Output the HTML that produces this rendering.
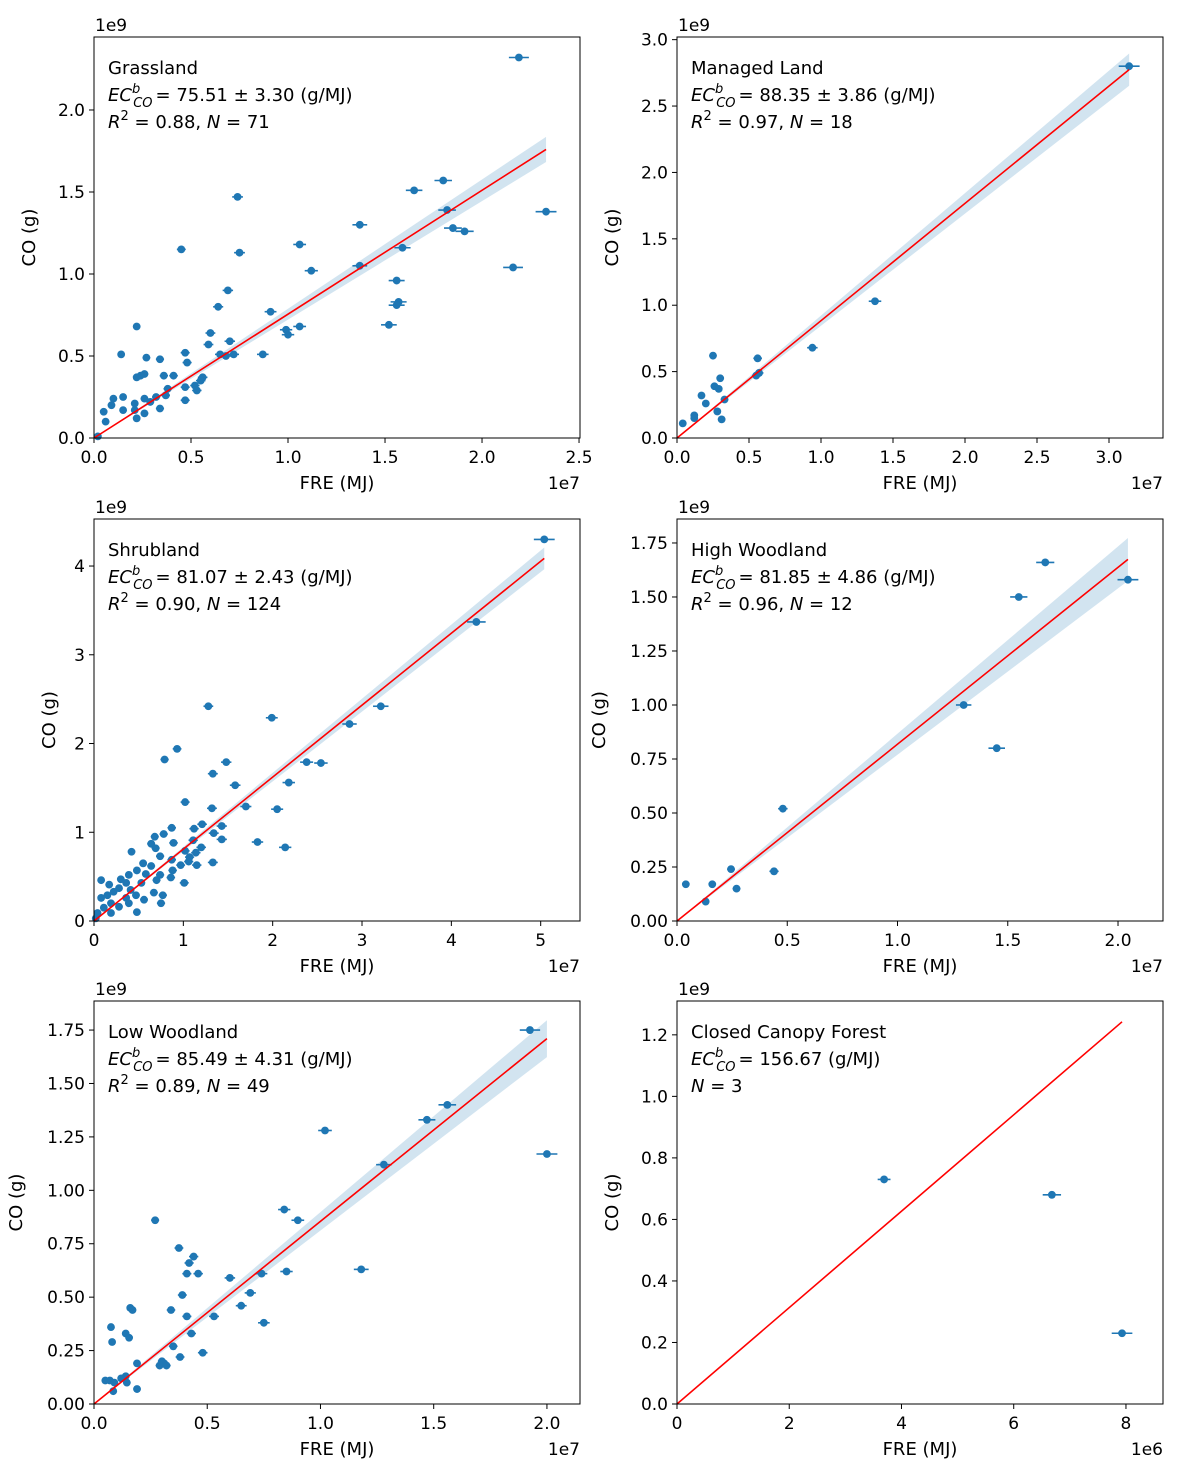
<!DOCTYPE html>
<html><head><meta charset="utf-8">
<style>
body{margin:0;background:#fff;}
svg{display:block;font-family:"DejaVu Sans","Liberation Sans",sans-serif;}
</style></head>
<body>
<svg id="fig" width="1186" height="1473" viewBox="0 0 1186 1473" xmlns="http://www.w3.org/2000/svg"></svg>
<script>
// ---- data (x in units of x-scale, y in 1e9 g) ----
const grassX=[2.19,2.33,2.16,1.80,1.65,1.82,1.85,1.91,1.37,1.37,1.59,1.56,1.57,1.56,1.52,0.74,0.45,0.75,1.06,1.12,0.69,0.64,0.91,0.99,1.00,1.06,0.60,0.70,0.59,0.87,0.72,0.68,0.65,0.47,0.48,0.22,0.14,0.27,0.34,0.56,0.55,0.36,0.41,0.24,0.22,0.26,0.47,0.52,0.53,0.38,0.37,0.32,0.34,0.47,0.26,0.29,0.21,0.15,0.10,0.09,0.15,0.21,0.22,0.26,0.05,0.06,0.02];
const grassY=[2.32,1.38,1.04,1.57,1.51,1.39,1.28,1.26,1.30,1.05,1.16,0.96,0.83,0.81,0.69,1.47,1.15,1.13,1.18,1.02,0.90,0.80,0.77,0.66,0.63,0.68,0.64,0.59,0.57,0.51,0.51,0.50,0.51,0.52,0.46,0.68,0.51,0.49,0.48,0.37,0.35,0.38,0.38,0.38,0.37,0.39,0.31,0.32,0.29,0.30,0.26,0.25,0.18,0.23,0.24,0.22,0.21,0.25,0.24,0.20,0.17,0.17,0.12,0.15,0.16,0.10,0.01];
const managedX=[3.14,1.375,0.94,0.56,0.57,0.55,0.25,0.04,0.12,0.12,0.17,0.20,0.26,0.30,0.29,0.33,0.28,0.31];
const managedY=[2.80,1.03,0.68,0.60,0.49,0.47,0.62,0.11,0.17,0.15,0.32,0.26,0.39,0.45,0.37,0.29,0.20,0.14];
const shrubX=[5.04,4.28,3.21,2.86,1.99,1.28,0.93,0.79,2.54,2.38,2.18,1.58,1.48,1.33,1.70,2.05,1.02,1.32,1.83,2.14,1.33,1.21,1.12,1.43,0.87,0.78,0.68,1.34,1.43,1.11,0.89,0.64,1.20,1.02,0.69,0.74,0.42,1.14,1.07,0.87,1.06,1.15,0.97,0.55,0.64,0.48,0.88,0.58,0.74,0.86,0.70,1.01,0.39,0.30,0.08,0.17,0.36,0.53,0.28,0.41,0.22,0.15,0.47,0.67,0.77,0.56,0.36,0.08,0.19,0.39,0.75,0.11,0.28,0.48,0.04,0.19,0.02];
const shrubY=[4.30,3.37,2.42,2.22,2.29,2.42,1.94,1.82,1.78,1.79,1.56,1.53,1.79,1.66,1.29,1.26,1.34,1.27,0.89,0.83,0.66,1.09,1.04,1.07,1.05,0.98,0.95,0.99,0.92,0.91,0.88,0.87,0.83,0.79,0.82,0.73,0.78,0.77,0.72,0.69,0.67,0.63,0.63,0.65,0.62,0.57,0.57,0.53,0.52,0.49,0.46,0.43,0.52,0.47,0.46,0.41,0.43,0.43,0.37,0.35,0.33,0.29,0.29,0.32,0.29,0.24,0.26,0.26,0.20,0.20,0.20,0.15,0.16,0.10,0.09,0.09,0.03];
const highX=[2.045,1.67,1.55,1.30,1.45,0.48,0.44,0.245,0.27,0.16,0.13,0.04];
const highY=[1.58,1.66,1.50,1.00,0.80,0.52,0.23,0.24,0.15,0.17,0.09,0.17];
const lowX=[1.925,2.0,1.56,1.47,1.28,1.02,1.18,0.84,0.90,0.85,0.74,0.75,0.69,0.65,0.60,0.53,0.48,0.27,0.375,0.44,0.42,0.41,0.46,0.39,0.34,0.41,0.43,0.35,0.38,0.31,0.30,0.29,0.32,0.16,0.17,0.14,0.155,0.075,0.08,0.19,0.14,0.12,0.07,0.05,0.09,0.085,0.19,0.145];
const lowY=[1.75,1.17,1.40,1.33,1.12,1.28,0.63,0.91,0.86,0.62,0.61,0.38,0.52,0.46,0.59,0.41,0.24,0.86,0.73,0.69,0.66,0.61,0.61,0.51,0.44,0.41,0.33,0.27,0.22,0.19,0.20,0.18,0.18,0.45,0.44,0.33,0.31,0.36,0.29,0.19,0.13,0.12,0.11,0.11,0.10,0.06,0.07,0.10];
const closedX=[3.69,6.68,7.93];
const closedY=[0.73,0.68,0.23];

const panels=[
 {name:'grassland',L:94,T:37,R:580,B:438,xmax:2.505,ymax:2.445,xs:grassX,ys:grassY,slope:0.7551,err:0.0330,
  xt:[0,0.5,1.0,1.5,2.0,2.5],xd:1,yt:[0,0.5,1.0,1.5,2.0],yd:1,xexp:'1e7',ylx:35,
  title:'Grassland',ec:'75.51 ± 3.30 (g/MJ)',r2:'0.88',n:'71'},
 {name:'managed-land',L:677,T:37,R:1163,B:438,xmax:3.375,ymax:3.02,xs:managedX,ys:managedY,slope:0.8835,err:0.0386,
  xt:[0,0.5,1.0,1.5,2.0,2.5,3.0],xd:1,yt:[0,0.5,1.0,1.5,2.0,2.5,3.0],yd:1,xexp:'1e7',ylx:618,
  title:'Managed Land',ec:'88.35 ± 3.86 (g/MJ)',r2:'0.97',n:'18'},
 {name:'shrubland',L:94,T:519,R:580,B:921,xmax:5.44,ymax:4.53,xs:shrubX,ys:shrubY,slope:0.8107,err:0.0243,
  xt:[0,1,2,3,4,5],xd:0,yt:[0,1,2,3,4],yd:0,xexp:'1e7',ylx:55,
  title:'Shrubland',ec:'81.07 ± 2.43 (g/MJ)',r2:'0.90',n:'124'},
 {name:'high-woodland',L:677,T:519,R:1163,B:921,xmax:2.204,ymax:1.861,xs:highX,ys:highY,slope:0.8185,err:0.0486,
  xt:[0,0.5,1.0,1.5,2.0],xd:1,yt:[0,0.25,0.5,0.75,1.0,1.25,1.5,1.75],yd:2,xexp:'1e7',ylx:605,
  title:'High Woodland',ec:'81.85 ± 4.86 (g/MJ)',r2:'0.96',n:'12'},
 {name:'low-woodland',L:94,T:1001,R:580,B:1404,xmax:2.146,ymax:1.886,xs:lowX,ys:lowY,slope:0.8549,err:0.0431,
  xt:[0,0.5,1.0,1.5,2.0],xd:1,yt:[0,0.25,0.5,0.75,1.0,1.25,1.5,1.75],yd:2,xexp:'1e7',ylx:22,
  title:'Low Woodland',ec:'85.49 ± 4.31 (g/MJ)',r2:'0.89',n:'49'},
 {name:'closed-canopy-forest',L:677,T:1001,R:1163,B:1404,xmax:8.66,ymax:1.31,xs:closedX,ys:closedY,slope:0.15667,err:0,
  xt:[0,2,4,6,8],xd:0,yt:[0,0.2,0.4,0.6,0.8,1.0,1.2],yd:1,xexp:'1e6',ylx:618,
  title:'Closed Canopy Forest',ec:'156.67 (g/MJ)',r2:null,n:'3'}
];

const NS='http://www.w3.org/2000/svg';
const svg=document.getElementById('fig');
function mk(tag,attrs,parent,txt){const e=document.createElementNS(NS,tag);for(const k in attrs)e.setAttribute(k,attrs[k]);if(txt!==undefined)e.textContent=txt;(parent||svg).appendChild(e);return e;}

panels.forEach(p=>{
  const g=mk('g',{});
  
  
  const sx=v=>p.L+v/p.xmax*(p.R-p.L);
  const sy=v=>p.B-v/p.ymax*(p.B-p.T);
  const xm=Math.max(...p.xs);
  if(p.err>0){
    const pts=[[0,0],[xm,xm*(p.slope+p.err)],[xm,xm*(p.slope-p.err)]];
    const band=mk('polygon',{points:pts.map(q=>sx(q[0])+','+sy(q[1])).join(' '),fill:'#1f77b4','fill-opacity':'0.2'},g);
    
    
  }
  p.xs.forEach((x,i)=>{
    const y=p.ys[i];
    const epx=3+x/p.xmax*8;
    const eb=mk('line',{x1:sx(x)-epx,x2:sx(x)+epx,y1:sy(y),y2:sy(y),stroke:'#1f77b4','stroke-width':1.6},g);
    
    
    const c=mk('circle',{cx:sx(x),cy:sy(y),r:3.9,fill:'#1f77b4'},g);
    
    
  });
  const fl=mk('line',{x1:sx(0),y1:sy(0),x2:sx(xm),y2:sy(xm*p.slope),stroke:'#ff0000','stroke-width':1.6},g);
  
  
  const fr=mk('rect',{x:p.L,y:p.T,width:p.R-p.L,height:p.B-p.T,fill:'none',stroke:'#000','stroke-width':1},g);
  
  
  p.xt.forEach(v=>{
    const X=sx(v);
    mk('line',{x1:X,x2:X,y1:p.B,y2:p.B+5,stroke:'#000'},g);
    const t=mk('text',{x:X,y:p.B+25,'text-anchor':'middle','font-size':17},g,v.toFixed(p.xd));
    
    
  });
  p.yt.forEach(v=>{
    const Y=sy(v);
    mk('line',{x1:p.L-5,x2:p.L,y1:Y,y2:Y,stroke:'#000'},g);
    const t=mk('text',{x:p.L-9,y:Y+6,'text-anchor':'end','font-size':17},g,v.toFixed(p.yd));
    
    
  });
  const e9=mk('text',{x:p.L+1,y:p.T-6,'font-size':17},g,'1e9');
  
  
  const e7=mk('text',{x:p.R,y:p.B+51,'text-anchor':'end','font-size':17},g,p.xexp);
  
  
  const xl=mk('text',{x:(p.L+p.R)/2,y:p.B+51,'text-anchor':'middle','font-size':18},g,'FRE (MJ)');
  
  
  const cy=(p.T+p.B)/2;
  const yl=mk('text',{x:p.ylx,y:cy,'text-anchor':'middle','font-size':18,transform:'rotate(-90 '+p.ylx+' '+cy+')'},g,'CO (g)');
  
  
  const ax=p.L+14;
  const t1=mk('text',{x:ax,y:p.T+37,'font-size':18},g,p.title);
  
  
  const t2=mk('text',{x:ax,y:p.T+64,'font-size':18},g);
  
  
  mk('tspan',{'font-style':'italic'},t2,'EC');
  mk('tspan',{'font-style':'italic','font-size':13,dy:-8},t2,'b');
  mk('tspan',{'font-style':'italic','font-size':13,dx:-7,dy:14},t2,'CO');
  mk('tspan',{dy:-6,dx:3},t2,'= '+p.ec);
  let y3=p.T+91;
  if(p.r2){
    const t3=mk('text',{x:ax,y:y3,'font-size':18},g);
    
    
    mk('tspan',{'font-style':'italic'},t3,'R');
    mk('tspan',{'font-size':13,dy:-8},t3,'2');
    mk('tspan',{dy:8},t3,' = '+p.r2+', ');
    mk('tspan',{'font-style':'italic'},t3,'N');
    mk('tspan',{},t3,' = '+p.n);
  } else {
    const t3=mk('text',{x:ax,y:y3,'font-size':18},g);
    
    
    mk('tspan',{'font-style':'italic'},t3,'N');
    mk('tspan',{},t3,' = '+p.n);
  }
});
</script>
</body></html>
